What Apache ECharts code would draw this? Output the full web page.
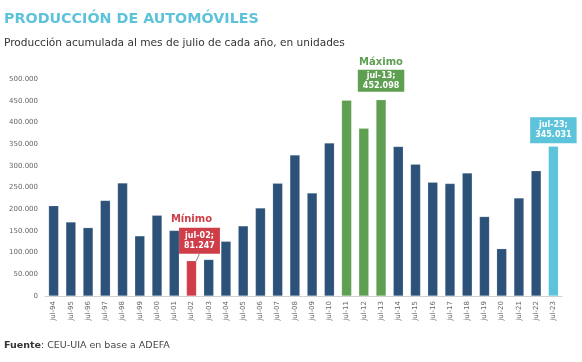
<!DOCTYPE html>
<html><head><meta charset="utf-8">
<script src="https://cdn.jsdelivr.net/npm/echarts@6/dist/echarts.min.js"></script>
<style>html,body{margin:0;padding:0;background:#fff;}#c{width:582px;height:362px;}</style>
</head><body><div id="c"></div>
<script>
const categories = ['jul-94','jul-95','jul-96','jul-97','jul-98','jul-99','jul-00','jul-01','jul-02','jul-03','jul-04','jul-05','jul-06','jul-07','jul-08','jul-09','jul-10','jul-11','jul-12','jul-13','jul-14','jul-15','jul-16','jul-17','jul-18','jul-19','jul-20','jul-21','jul-22','jul-23'];
const values = [208000,170500,157500,220000,260500,138500,186000,151000,81247,84000,126000,161500,203000,260000,325000,237500,352500,451000,386500,452098,344500,303500,262000,259000,283500,183000,109000,226000,288500,345031];
const yTicks = [0,50000,100000,150000,200000,250000,300000,350000,400000,450000,500000];
const greenIdx = [17,18,19];
const minIdx = 8, maxIdx = 19, lastIdx = 29;

const C_BLUE = '#2c5279', C_GREEN = '#5e9f52', C_RED = '#cf3e48', C_CYAN = '#5cc3da';
function fmt(v){return String(v).replace(/\B(?=(\d{3})+(?!\d))/g,'.');}

const data = values.map((v,i)=>{
  let color = C_BLUE;
  if (greenIdx.includes(i)) color = C_GREEN;
  if (i===minIdx) color = C_RED;
  if (i===lastIdx) color = C_CYAN;
  const item = {value:v, itemStyle:{color:color}};
  if (i===minIdx || i===maxIdx || i===lastIdx) {
    item.label = {show:true, position:'top', distance:(i===maxIdx?8:3),
      formatter: categories[i]+';\n'+fmt(values[i]),
      backgroundColor: color, color:'#fff', fontWeight:'bold', fontSize:8,
      fontFamily:'DejaVu Sans', lineHeight:10, padding:(i===maxIdx?[1,5,1,5]:[3,5,3,5]), align:'center'};
    if (i===minIdx) item.labelLine = {show:true, lineStyle:{color:'#888', width:1}};
  }
  return item;
});

const chart = echarts.init(document.getElementById('c'), null, {renderer:'canvas'});
chart.setOption({
  animation:false,
  textStyle:{fontFamily:'DejaVu Sans'},
  graphic:[
    {type:'text', left:4, top:12, style:{text:'PRODUCCIÓN DE AUTOMÓVILES', fill:C_CYAN, font:'bold 14.3px "DejaVu Sans"'}},
    {type:'text', left:4, top:38, style:{text:'Producción acumulada al mes de julio de cada año, en unidades', fill:'#333', font:'10.6px "DejaVu Sans"'}},
    {type:'text', left:4, top:341, style:{text:'{b|Fuente}: CEU-UIA en base a ADEFA', fill:'#444', font:'9.5px "DejaVu Sans"', rich:{b:{fontWeight:'bold', fill:'#333', fontSize:9.5, fontFamily:'DejaVu Sans'}}}}
  ],
  grid:{left:45, right:20, top:79, bottom:66},
  xAxis:{type:'category', data:categories,
    axisLine:{lineStyle:{color:'#d0d0d0'}}, axisTick:{show:false},
    axisLabel:{rotate:90, fontSize:7, color:'#666', margin:5, interval:0}},
  yAxis:{type:'value', min:0, max:500000, interval:50000,
    axisLine:{show:false}, axisTick:{show:false}, splitLine:{show:false},
    axisLabel:{fontSize:7, color:'#666', margin:7, formatter:v=>fmt(v)}},
  series:[{type:'bar', data:data, barWidth:'58%',
    itemStyle:{borderColor:'rgba(255,255,255,0.35)', borderWidth:0.5},
    labelLayout:function(p){ if(p.dataIndex===minIdx) return {dx:8, dy:-4}; return {}; },
    markPoint:{symbol:'circle', symbolSize:0, silent:true,
      data:[
        {coord:[categories[minIdx], values[minIdx]], label:{show:true, formatter:'Mínimo', color:C_RED, fontWeight:'bold', fontSize:10, offset:[0,-41]}},
        {coord:[categories[maxIdx], values[maxIdx]], label:{show:true, formatter:'Máximo', color:C_GREEN, fontWeight:'bold', fontSize:10, offset:[0,-37]}}
      ]}
  }]
});
</script></body></html>
